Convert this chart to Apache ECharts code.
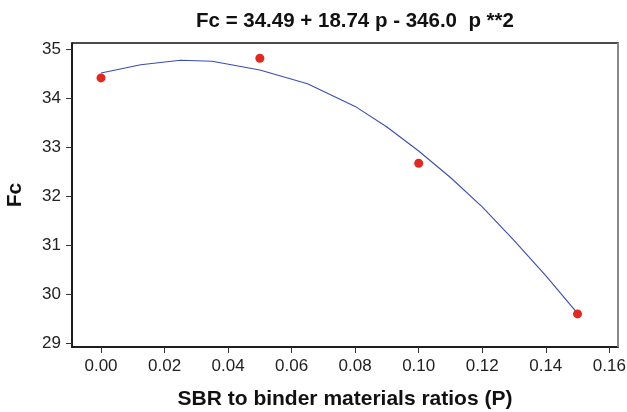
<!DOCTYPE html>
<html>
<head>
<meta charset="utf-8">
<script src="https://cdn.jsdelivr.net/npm/echarts@6/dist/echarts.min.js"></script>
<style>
  html, body { margin: 0; padding: 0; background: #fff; }
  #chart { width: 627px; height: 412px; }
</style>
</head>
<body>
<div id="chart"></div>
<script>
// measured points
var ratios = [0.00, 0.05, 0.10, 0.15];
var fcValues = [34.41, 34.81, 32.67, 29.60];

// fitted curve as drawn
var fitRatios = [0.000, 0.0125, 0.025, 0.035, 0.050, 0.065, 0.080, 0.090, 0.100, 0.110, 0.120, 0.130, 0.140, 0.150];
var fitValues = [34.51, 34.68, 34.77, 34.75, 34.57, 34.29, 33.83, 33.41, 32.92, 32.38, 31.78, 31.10, 30.38, 29.61];

var xTickValues = [0, 0.02, 0.04, 0.06, 0.08, 0.10, 0.12, 0.14, 0.16];
var yTickValues = [29, 30, 31, 32, 33, 34, 35];

var font = 'Liberation Sans, Arial, Helvetica, sans-serif';

var chart = echarts.init(document.getElementById('chart'));

var pts = ratios.map(function (r, i) { return [r, fcValues[i]]; });
var fit = fitRatios.map(function (r, i) { return [r, fitValues[i]]; });

chart.setOption({
    backgroundColor: '#fff',
    animation: false,
    title: {
        text: 'Fc = 34.49 + 18.74 p - 346.0  p **2',
        left: 350,
        top: 6,
        textAlign: 'center',
        textStyle: { fontFamily: font, fontWeight: 'bold', fontSize: 20.5, color: '#111' }
    },
    grid: {
        left: 72, right: 9, top: 43, bottom: 65,
        outerBoundsMode: 'none',
        show: true, borderColor: '#111', borderWidth: 1.5
    },
    xAxis: {
        type: 'value',
        min: -0.00913, max: 0.16274,
        name: 'SBR to binder materials ratios (P)',
        nameLocation: 'middle',
        nameGap: 42,
        nameTextStyle: { fontFamily: font, fontWeight: 'bold', fontSize: 21, color: '#111' },
        axisLine: { show: true, onZero: false, lineStyle: { color: '#111', width: 1.5 } },
        axisTick: { show: true, length: 6, customValues: xTickValues, lineStyle: { color: '#333', width: 1 } },
        axisLabel: {
            margin: 11, fontFamily: font, fontSize: 17, color: '#222',
            customValues: xTickValues,
            formatter: function (v) { return v.toFixed(2); }
        },
        splitLine: { show: false }
    },
    yAxis: {
        type: 'value',
        min: 28.925, max: 35.122,
        name: 'Fc',
        nameLocation: 'middle',
        nameGap: 46,
        nameRotate: 90,
        nameTextStyle: { fontFamily: font, fontWeight: 'bold', fontSize: 21, color: '#111' },
        axisLine: { show: true, onZero: false, lineStyle: { color: '#111', width: 1.5 } },
        axisTick: { show: true, length: 6, customValues: yTickValues, lineStyle: { color: '#333', width: 1 } },
        axisLabel: { margin: 11, fontFamily: font, fontSize: 17, color: '#222', customValues: yTickValues },
        splitLine: { show: false }
    },
    graphic: [{
        type: 'line',
        shape: { x1: 618, y1: 43, x2: 618, y2: 347 },
        style: { stroke: '#888', lineWidth: 2 },
        z: 10
    }],
    series: [{
        type: 'line',
        data: fit,
        showSymbol: false,
        smooth: false,
        lineStyle: { color: '#3a4db3', width: 1.1 },
        z: 2
    }, {
        type: 'scatter',
        data: pts,
        symbolSize: 9,
        itemStyle: { color: '#e3281f', opacity: 1 },
        z: 3
    }]
});
</script>
</body>
</html>
